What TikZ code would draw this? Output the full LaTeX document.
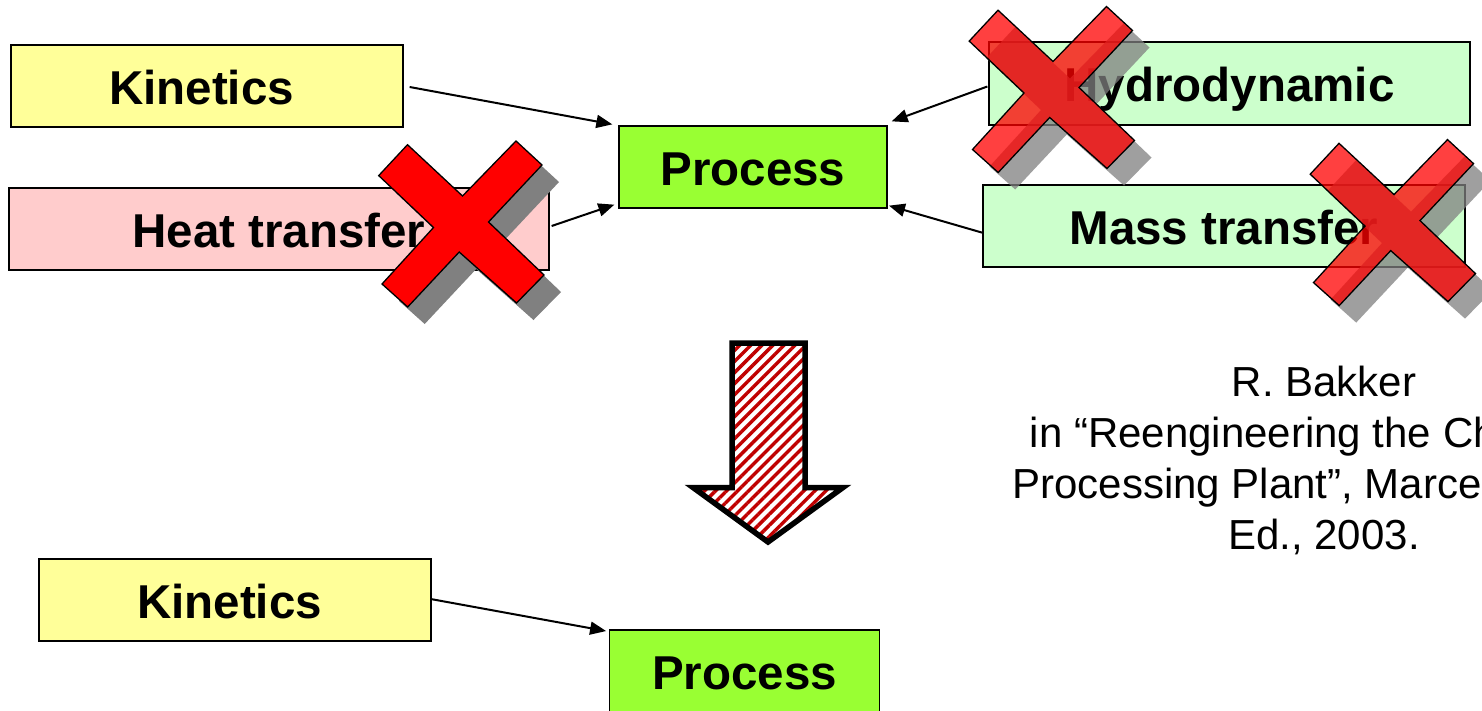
\documentclass[tikz,border=0pt]{standalone}
\usepackage{fontspec}
\setmainfont{Liberation Sans}
\usetikzlibrary{arrows.meta,patterns.meta}
\definecolor{kinyellow}{HTML}{FFFF99}
\definecolor{heatpink}{HTML}{FFCCCC}
\definecolor{procgreen}{HTML}{99FF33}
\definecolor{palegreen}{HTML}{CCFFCC}
\definecolor{stripered}{HTML}{C00000}
\definecolor{shadowgray}{HTML}{808080}
\definecolor{crossred}{HTML}{FF0000}
\newcommand\drawcross[3]{%
  \fill[shadowgray, fill opacity=#3, shift={(#1+17,#2+17)}]
    (-53.5,-79.3) -- (1.5,-28) -- (55,-83) -- (81,-59) -- (27.5,-2) -- (83,51) -- (55.5,79) -- (-1.8,28) -- (-53.3,83) -- (-79,60) -- (-27.5,3.5) -- (-82.3,-48.4) -- cycle;
  \filldraw[fill=crossred, draw=black, line width=1.3pt, fill opacity=#3, shift={(#1,#2)}]
    (-53.5,-79.3) -- (1.5,-28) -- (55,-83) -- (81,-59) -- (27.5,-2) -- (83,51) -- (55.5,79) -- (-1.8,28) -- (-53.3,83) -- (-79,60) -- (-27.5,3.5) -- (-82.3,-48.4) -- cycle;
}
\begin{document}
\begin{tikzpicture}[x=1pt,y=-1pt,
  box/.style={draw=black, line width=1.3pt, inner sep=0pt, minimum height=82pt,
    text height=36pt, text depth=0pt, font=\bfseries\fontsize{47.5}{52}\selectfont},
  link/.style={line width=2pt, -{Triangle[length=16pt,width=13pt]}},
  cite/.style={inner sep=0pt, font=\fontsize{42}{51}\selectfont}]
\useasboundingbox (0,0) rectangle (1482,710);
\clip (0,0) rectangle (1482,710);
\fill[white] (0,0) rectangle (1482,710);

\node[box, fill=kinyellow, minimum width=392pt] (kin1) at (207,86) {Kinetics\hspace*{11pt}};
\node[box, fill=heatpink, minimum width=540pt] (heat) at (279,229) {Heat transfer};
\node[box, fill=procgreen, minimum width=268pt] (proc1) at (753,167) {Process};
\node[box, fill=palegreen, minimum width=481pt, minimum height=83pt] (hydro) at (1229.5,83.5) {Hydrodynamic};
\node[box, fill=palegreen, minimum width=482pt] (mass) at (1224,226) {Mass transfer};
\node[box, fill=kinyellow, minimum width=392pt] (kin2) at (235,600) {Kinetics\hspace*{11pt}};
\node[box, fill=procgreen, minimum width=269.5pt] (proc2) at (744.5,671) {Process};

\draw[link] ([shift={(6,1)}]kin1.east) -- ([shift={(-6,-1)}]proc1.north west);
\draw[link] ([shift={(2,-3)}]heat.east) -- ([shift={(-4,-4)}]proc1.south west);
\draw[link] ([shift={(-1,3)}]hydro.west) -- ([shift={(4,-4)}]proc1.north east);
\draw[link] ([shift={(0,6.7)}]mass.west) -- ([shift={(1.3,-3)}]proc1.south east);
\draw[link] ([shift={(-1,-1)}]kin2.east) -- ([shift={(-3,1.7)}]proc2.north west);

\drawcross{461}{224}{1}
\drawcross{1051.5}{89.5}{0.75}
\drawcross{1392.5}{222.6}{0.75}

\draw[line width=5.5pt, miter limit=10, preaction={fill=white},
  pattern={Lines[angle=45,distance=7.8pt,line width=3.4pt]}, pattern color=stripered]
  (732,343) -- (805,343) -- (805,487.5) -- (843,487.5) -- (768,542) -- (693,487.5) -- (732,487.5) -- cycle;

\node[cite, align=center, anchor=base] (ref) at (1324,549)
  {R. Bakker\\ in “Reengineering the Chemical\\ Processing Plant”, Marcel Dekker\\ Ed., 2003.};
\end{tikzpicture}
\end{document}
